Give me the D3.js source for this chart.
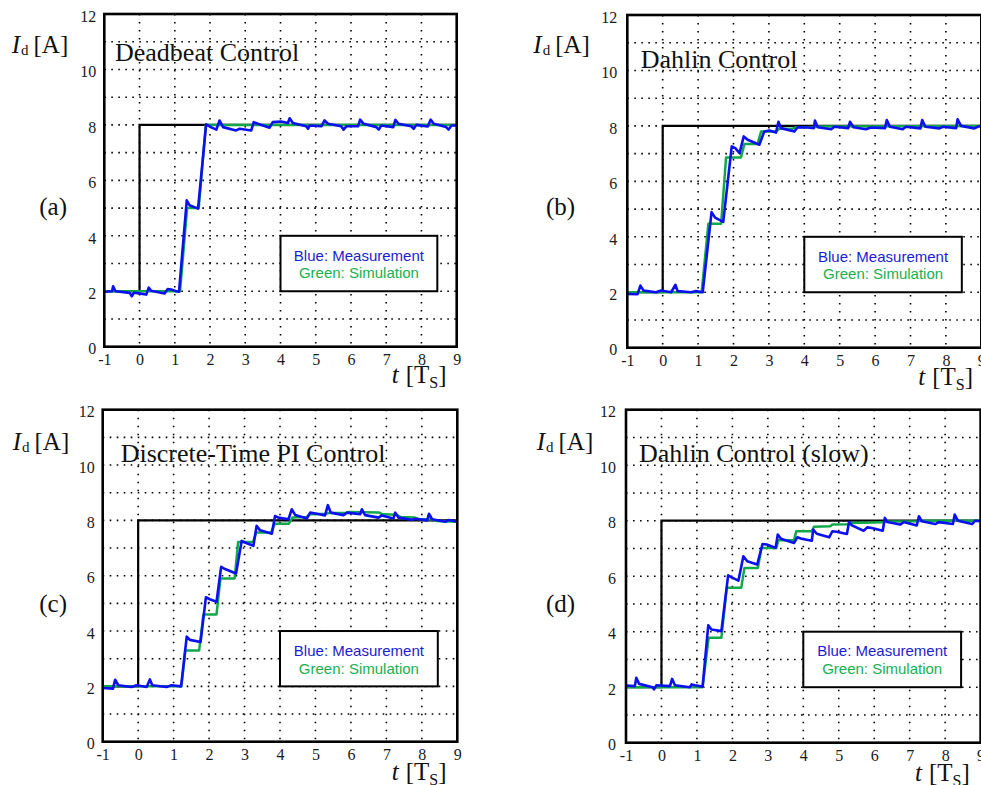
<!DOCTYPE html>
<html><head><meta charset="utf-8">
<script src="https://cdn.jsdelivr.net/npm/d3@7"></script>
<style>body{margin:0;background:#fff}svg{display:block}</style>
</head><body>
<svg id="chart" width="981" height="785"></svg>
<script>
// ---------- data ----------
const xTicks = [-1,0,1,2,3,4,5,6,7,8,9];
const yTicks = [0,2,4,6,8,10,12];
const xGrid = [0,1,2,3,4,5,6,7,8];
const yGrid = [1,2,3,4,5,6,7,8,9,10,11];
const titles = ["Deadbeat Control","Dahlin Control","Discrete-Time PI Control","Dahlin Control (slow)"];
const panelTags = ["(a)","(b)","(c)","(d)"];
const legendLines = ["Blue: Measurement","Green: Simulation"];
const reference = [[-1,2],[0,2],[0,8],[9,8]];

const measA = [[-1,1.98],[-0.78,2.0],[-0.75,2.18],[-0.68,2.0],[-0.28,1.94],[-0.22,1.82],[-0.16,1.95],[0.19,1.88],[0.26,2.13],[0.33,2.02],[0.71,1.92],[0.8,2.08],[0.9,2.06],[1.04,2.0],[1.12,1.98],[1.34,5.28],[1.42,5.1],[1.66,4.98],[1.89,8.02],[2.05,7.9],[2.18,7.83],[2.27,8.16],[2.37,7.92],[2.74,7.8],[2.84,7.86],[3.17,7.8],[3.24,8.1],[3.36,8.04],[3.69,7.9],[3.78,8.1],[4.02,8.12],[4.21,8.07],[4.26,8.24],[4.35,8.07],[4.73,7.95],[4.78,7.86],[4.83,7.98],[5.16,7.95],[5.25,8.16],[5.35,8.04],[5.72,7.95],[5.79,7.83],[5.87,7.95],[6.2,7.95],[6.26,8.19],[6.36,8.04],[6.72,7.92],[6.79,7.83],[6.86,7.98],[7.2,7.92],[7.26,8.18],[7.35,8.04],[7.71,7.95],[7.78,7.86],[7.85,8.0],[8.18,7.94],[8.26,8.19],[8.35,8.04],[8.7,7.92],[8.77,7.83],[8.85,7.98],[9,7.98]];
const simA = [[-1,2],[1.15,2],[1.35,5],[1.68,5],[1.88,8],[9,8]];

const measB = [[-1,1.94],[-0.71,1.93],[-0.63,2.24],[-0.54,2.06],[-0.19,2.0],[-0.05,2.06],[0.24,2.0],[0.36,2.27],[0.42,2.04],[0.8,2.0],[0.94,2.04],[1.13,2.0],[1.38,4.89],[1.48,4.69],[1.71,4.54],[1.95,7.26],[2.05,7.2],[2.17,7.02],[2.29,7.62],[2.4,7.5],[2.73,7.32],[2.87,7.8],[3.01,7.83],[3.2,7.76],[3.27,8.15],[3.34,7.92],[3.72,7.8],[3.81,7.95],[4.1,7.94],[4.27,7.92],[4.3,8.19],[4.38,7.95],[4.76,7.88],[4.85,7.97],[5.24,7.92],[5.29,8.15],[5.39,7.95],[5.74,7.88],[5.88,7.94],[6.28,7.92],[6.33,8.21],[6.42,7.97],[6.78,7.88],[6.87,7.97],[7.28,7.91],[7.33,8.21],[7.42,7.97],[7.82,7.91],[7.91,7.97],[8.29,7.92],[8.33,8.24],[8.43,8.0],[8.8,7.91],[8.9,7.97],[9,8.0]];
const simB = [[-1,2],[1.1,2],[1.29,4.47],[1.65,4.47],[1.79,6.86],[2.21,6.86],[2.31,7.35],[2.68,7.35],[2.78,7.8],[3.2,7.8],[3.3,7.9],[3.67,7.9],[3.77,7.95],[4.3,7.96],[4.4,7.98],[9,8]];

const measC = [[-1,1.94],[-0.71,1.92],[-0.65,2.24],[-0.56,2.04],[-0.19,1.98],[-0.05,2.04],[0.24,1.98],[0.33,2.25],[0.4,2.04],[0.8,1.98],[0.94,2.04],[1.21,2.0],[1.37,3.8],[1.46,3.68],[1.76,3.6],[1.91,5.22],[2.02,5.15],[2.21,5.06],[2.34,6.32],[2.45,6.24],[2.76,6.08],[2.92,7.26],[3.01,7.2],[3.25,7.08],[3.34,7.8],[3.44,7.64],[3.77,7.52],[3.86,8.16],[3.95,8.1],[4.24,8.04],[4.33,8.4],[4.43,8.19],[4.76,8.07],[4.85,8.28],[5.04,8.24],[5.27,8.18],[5.35,8.55],[5.43,8.28],[5.79,8.19],[5.89,8.28],[6.26,8.22],[6.31,8.4],[6.4,8.19],[6.78,8.1],[6.87,8.18],[7.2,8.07],[7.25,8.28],[7.34,8.1],[7.72,8.02],[7.82,8.06],[8.15,8.0],[8.2,8.24],[8.29,8.04],[8.66,7.95],[8.76,8.01],[9,7.95]];
const simC = [[-1,2],[1.22,2],[1.33,3.3],[1.72,3.3],[1.84,4.6],[2.21,4.6],[2.32,5.9],[2.72,5.9],[2.82,7.22],[3.24,7.22],[3.33,7.56],[3.75,7.56],[3.85,7.88],[4.25,7.88],[4.35,8.1],[4.75,8.12],[4.85,8.22],[5.3,8.24],[5.4,8.27],[5.85,8.27],[5.95,8.3],[6.8,8.28],[6.9,8.22],[7.3,8.2],[7.4,8.12],[7.8,8.1],[7.9,8.05],[8.3,8.03],[8.4,7.98],[9,7.95]];

const measD = [[-1,2.06],[-0.75,2.04],[-0.71,2.34],[-0.63,2.12],[-0.25,2.0],[-0.21,1.92],[-0.14,2.07],[0.24,2.04],[0.3,2.3],[0.38,2.07],[0.8,2.0],[0.85,2.1],[0.94,2.07],[1.16,2.02],[1.32,4.23],[1.41,4.08],[1.69,4.02],[1.88,6.03],[1.98,5.96],[2.17,5.84],[2.31,6.72],[2.42,6.54],[2.7,6.42],[2.85,7.16],[2.97,7.14],[3.22,7.02],[3.28,7.5],[3.37,7.35],[3.74,7.2],[3.83,7.4],[3.95,7.35],[4.24,7.28],[4.28,7.68],[4.38,7.53],[4.73,7.4],[4.82,7.62],[4.94,7.6],[5.23,7.52],[5.29,7.95],[5.37,7.83],[5.7,7.64],[5.81,7.76],[5.93,7.74],[6.24,7.64],[6.3,8.1],[6.37,7.95],[6.73,7.86],[6.83,7.95],[7.2,7.83],[7.26,8.16],[7.34,7.98],[7.72,7.88],[7.82,7.95],[8.22,7.88],[8.27,8.22],[8.36,8.0],[8.76,7.88],[8.85,8.0],[9,7.98]];
const simD = [[-1,2],[1.16,2],[1.33,3.78],[1.69,3.78],[1.84,5.58],[2.25,5.58],[2.34,6.3],[2.72,6.3],[2.82,7.02],[3.24,7.02],[3.3,7.3],[3.74,7.3],[3.8,7.62],[4.24,7.62],[4.3,7.78],[4.76,7.8],[4.82,7.86],[5.26,7.87],[5.32,7.92],[6.25,7.94],[6.3,7.97],[7.25,7.98],[7.3,8.0],[9,8.0]];

const measurements = [measA, measB, measC, measD];
const simulations = [simA, simB, simC, simD];

// ---------- layout ----------
const layout = [
  {x0:104.3,y0:14,  x1:456.7,y1:346.7, title:[115,61],     tag:[39.3,215],  ylab:[11.7,53],  xlab:[391.7,383]},
  {x0:627.3,y0:15,  x1:981.3,y1:347.7, title:[640.7,68],   tag:[546,215],   ylab:[533.3,53], xlab:[918.3,385]},
  {x0:102.7,y0:409.7,x1:457.3,y1:741.7,title:[120.7,461.7],tag:[39.3,611.7],ylab:[12.7,450], xlab:[391.7,780]},
  {x0:626,  y0:409.7,x1:980.6,y1:742.7,title:[639,461.7],  tag:[546,611.7], ylab:[536.7,450],xlab:[915,781]}
];
const SERIF = "'Liberation Serif','Times New Roman',serif";
const SANS = "'Liberation Sans',Arial,sans-serif";
const BLUE = "#0a10f0", GREEN = "#12a84a";

const svg = d3.select("#chart");

layout.forEach((L, i) => {
  const x = d3.scaleLinear().domain([-1, 9]).range([L.x0, L.x1]);
  const y = d3.scaleLinear().domain([0, 12]).range([L.y1, L.y0]);
  const g = svg.append("g");

  // grid
  g.selectAll(".hg").data(yGrid).join("line")
    .attr("x1", L.x0).attr("x2", L.x1)
    .attr("y1", d => y(d)).attr("y2", d => y(d))
    .attr("stroke", "#000").attr("stroke-width", 1.6).attr("stroke-dasharray", "1.6,5.4");
  g.selectAll(".vg").data(xGrid).join("line")
    .attr("y1", L.y0).attr("y2", L.y1)
    .attr("x1", d => x(d)).attr("x2", d => x(d))
    .attr("stroke", "#000").attr("stroke-width", 1.6).attr("stroke-dasharray", "1.6,6.4");

  // axes (labels only)
  const xa = g.append("g").attr("transform", `translate(0,${L.y1})`)
    .call(d3.axisBottom(x).tickValues(xTicks).tickSize(0).tickPadding(0).tickFormat(d => String(d)));
  xa.select(".domain").remove();
  xa.selectAll("text").attr("dy", null).attr("y", 18.5)
    .attr("font-family", SERIF).attr("font-size", 16).attr("fill", "#1a1a1a");
  const ya = g.append("g").attr("transform", `translate(${L.x0},0)`)
    .call(d3.axisLeft(y).tickValues(yTicks).tickSize(0).tickPadding(0).tickFormat(d => String(d)));
  ya.select(".domain").remove();
  ya.selectAll("text").attr("x", i % 2 === 0 ? -8 : -10).attr("dy", "0.45em")
    .attr("font-family", SERIF).attr("font-size", 16).attr("fill", "#1a1a1a");

  const line = d3.line().x(d => x(d[0])).y(d => y(d[1]));

  // reference step
  g.append("path").datum(reference).attr("d", line)
    .attr("fill", "none").attr("stroke", "#000").attr("stroke-width", 2.2);
  // simulation
  g.append("path").datum(simulations[i]).attr("d", line)
    .attr("fill", "none").attr("stroke", GREEN).attr("stroke-width", 2.5).attr("stroke-linejoin", "round");
  // measurement
  g.append("path").datum(measurements[i]).attr("d", line)
    .attr("fill", "none").attr("stroke", BLUE).attr("stroke-width", 2.6).attr("stroke-linejoin", "round");

  // frame
  g.append("rect").attr("x", L.x0).attr("y", L.y0)
    .attr("width", L.x1 - L.x0).attr("height", L.y1 - L.y0)
    .attr("fill", "none").attr("stroke", "#000").attr("stroke-width", 2.6);

  // legend box
  const lx0 = x(4.0), lx1 = x(8.45), ly0 = y(4.0), ly1 = y(2.0);
  g.append("rect").attr("x", lx0).attr("y", ly0).attr("width", lx1 - lx0).attr("height", ly1 - ly0)
    .attr("fill", "#fff").attr("stroke", "#000").attr("stroke-width", 2);
  g.selectAll(".lg").data(legendLines).join("text")
    .attr("x", (lx0 + lx1) / 2).attr("y", (d, k) => ly0 + 24.7 + k * 17.8)
    .attr("text-anchor", "middle").attr("font-family", SANS).attr("font-size", 15)
    .attr("fill", (d, k) => k === 0 ? "#1c1cd0" : "#18b050")
    .text(d => d);

  // title
  g.append("text").attr("x", L.title[0]).attr("y", L.title[1])
    .attr("font-family", SERIF).attr("font-size", 26).attr("fill", "#111").text(titles[i]);
  // panel tag
  g.append("text").attr("x", L.tag[0]).attr("y", L.tag[1])
    .attr("font-family", SERIF).attr("font-size", 25).attr("fill", "#111").text(panelTags[i]);
  // y label
  const yl = g.append("text").attr("x", L.ylab[0]).attr("y", L.ylab[1])
    .attr("font-family", SERIF).attr("font-size", 25).attr("fill", "#111");
  yl.append("tspan").attr("font-style", "italic").text("I");
  yl.append("tspan").attr("font-size", 15).attr("dx", 1).attr("dy", 2).text("d");
  yl.append("tspan").attr("dx", 5).attr("dy", -2).text("[A]");
  // x label
  const xl = g.append("text").attr("x", L.xlab[0]).attr("y", L.xlab[1])
    .attr("font-family", SERIF).attr("font-size", 25).attr("fill", "#111");
  xl.append("tspan").attr("font-style", "italic").text("t");
  xl.append("tspan").attr("dx", 7).text("[T");
  xl.append("tspan").attr("font-size", 16).attr("dy", 5).text("S");
  xl.append("tspan").attr("dy", -5).text("]");
});
</script>
</body></html>
